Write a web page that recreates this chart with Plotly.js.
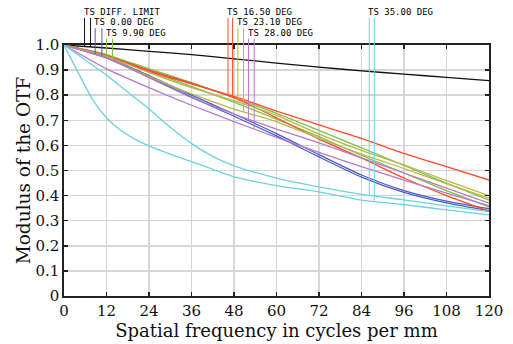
<!DOCTYPE html>
<html>
<head>
<meta charset="utf-8">
<script src="https://cdn.plot.ly/plotly-3.0.1.min.js"></script>
<style>
  html, body { margin: 0; padding: 0; background: #ffffff; }
  #chart { width: 513px; height: 344px; }
</style>
</head>
<body>
<div id="chart"></div>
<script>
// ---- data ----
const freq = [0, 12, 24, 36, 48, 60, 72, 84, 96, 108, 120];
const diffLimit = [1, 0.988, 0.975, 0.962, 0.945, 0.928, 0.912, 0.897, 0.884, 0.871, 0.858];
const t000  = [1, 0.952, 0.878, 0.800, 0.725, 0.647, 0.563, 0.482, 0.420, 0.378, 0.348];
const s000  = [1, 0.948, 0.872, 0.792, 0.716, 0.638, 0.554, 0.474, 0.413, 0.371, 0.340];
const t990  = [1, 0.962, 0.905, 0.850, 0.790, 0.728, 0.660, 0.590, 0.520, 0.450, 0.382];
const s990  = [1, 0.957, 0.895, 0.835, 0.772, 0.705, 0.635, 0.560, 0.490, 0.420, 0.355];
const t1650 = [1, 0.958, 0.895, 0.845, 0.795, 0.737, 0.682, 0.628, 0.568, 0.515, 0.462];
const s1650 = [1, 0.958, 0.900, 0.848, 0.790, 0.710, 0.625, 0.550, 0.470, 0.400, 0.338];
const t2310 = [1, 0.955, 0.890, 0.830, 0.778, 0.720, 0.645, 0.580, 0.522, 0.460, 0.400];
const s2310 = [1, 0.950, 0.875, 0.805, 0.745, 0.695, 0.628, 0.565, 0.508, 0.448, 0.390];
const t2800 = [1, 0.950, 0.870, 0.790, 0.725, 0.665, 0.610, 0.550, 0.490, 0.430, 0.370];
const s2800 = [1, 0.905, 0.830, 0.760, 0.695, 0.632, 0.572, 0.515, 0.462, 0.410, 0.360];
const freq35 = [0, 4, 8, 12, 16, 20, 24, 30, 36, 42, 48, 60, 72, 84, 96, 108, 120];
const t3500 = [1, 0.960, 0.920, 0.880, 0.835, 0.790, 0.745, 0.672, 0.607, 0.556, 0.518, 0.470, 0.435, 0.405, 0.383, 0.359, 0.336];
const s3500 = [1, 0.890, 0.785, 0.710, 0.660, 0.625, 0.598, 0.565, 0.535, 0.505, 0.475, 0.440, 0.415, 0.382, 0.364, 0.343, 0.323];

const fieldLabels = ["TS DIFF. LIMIT", "TS 0.00 DEG", "TS 9.90 DEG", "TS 16.50 DEG", "TS 23.10 DEG", "TS 28.00 DEG", "TS 35.00 DEG"];
const fieldColors = ["#111111", "#4a5cc4", "#7cc444", "#ff4a2a", "#b8b84a", "#b87ac8", "#6ad2e0"];
// x positions of the two marker lines for each field (cycles/mm)
const markerT = [5.8, 8.8, 12.0, 46.3, 49.1, 52.1, 86.2];
const markerS = [7.5, 10.7, 13.7, 47.6, 50.7, 53.7, 87.6];
const labelRow = [0, 1, 2, 0, 1, 2, 0];

const xTicks = [0, 12, 24, 36, 48, 60, 72, 84, 96, 108, 120];
const yTickVals = [0, 0.1, 0.2, 0.3, 0.4, 0.5, 0.6, 0.7, 0.8, 0.9, 1.0];
const yTickText = ["0", "0.1", "0.2", "0.3", "0.4", "0.5", "0.6", "0.7", "0.8", "0.9", "1.0"];

// ---- build ----
const fields = [
  {x: freq, t: diffLimit, s: diffLimit},
  {x: freq, t: t000, s: s000},
  {x: freq, t: t990, s: s990},
  {x: freq, t: t1650, s: s1650},
  {x: freq, t: t2310, s: s2310},
  {x: freq, t: t2800, s: s2800},
  {x: freq35, t: t3500, s: s3500}
];

function interp(xs, ys, x) {
  for (let i = 0; i < xs.length - 1; i++) {
    if (x >= xs[i] && x <= xs[i + 1]) {
      const f = (x - xs[i]) / (xs[i + 1] - xs[i]);
      return ys[i] + f * (ys[i + 1] - ys[i]);
    }
  }
  return ys[ys.length - 1];
}

const traces = [];
fields.forEach((f, i) => {
  const ln = {color: fieldColors[i], width: 1.3, shape: 'spline', smoothing: 0.6};
  traces.push({x: f.x, y: f.t, type: 'scatter', mode: 'lines', line: ln, hoverinfo: 'skip'});
  if (i > 0) traces.push({x: f.x, y: f.s, type: 'scatter', mode: 'lines', line: ln, hoverinfo: 'skip'});
});

// y range is [0,1] on a full-height domain, so paper y equals data y
const rowTextY = [1.131, 1.090, 1.049];
const rowLineTop = [1.108, 1.067, 1.025];

const shapes = [];
const annotations = [];
fields.forEach((f, i) => {
  const top = rowLineTop[labelRow[i]];
  shapes.push({type: 'line', xref: 'x', yref: 'paper', x0: markerT[i], x1: markerT[i],
    y0: interp(f.x, f.t, markerT[i]), y1: top, line: {color: fieldColors[i], width: 1}});
  shapes.push({type: 'line', xref: 'x', yref: 'paper', x0: markerS[i], x1: markerS[i],
    y0: interp(f.x, f.s, markerS[i]), y1: top, line: {color: fieldColors[i], width: 1}});
  annotations.push({text: fieldLabels[i], xref: 'x', yref: 'paper', x: markerT[i], y: rowTextY[labelRow[i]],
    xanchor: 'left', yanchor: 'middle', xshift: -3, showarrow: false,
    font: {family: 'DejaVu Sans Mono', size: 9, color: '#000000'}});
});

const serif = 'DejaVu Serif';
const layout = {
  width: 513, height: 344,
  margin: {l: 64, r: 24, t: 45, b: 48},
  paper_bgcolor: '#ffffff', plot_bgcolor: '#ffffff',
  showlegend: false,
  xaxis: {
    range: [0, 120], tickvals: xTicks, ticktext: xTicks.map(String),
    showgrid: true, gridcolor: '#d6d6d6', gridwidth: 1.5, zeroline: false,
    showline: true, linecolor: '#222222', linewidth: 1.6, mirror: 'ticks',
    ticks: 'inside', ticklen: 4, tickwidth: 1.5, tickcolor: '#222222',
    tickfont: {family: serif, size: 15, color: '#111111'},
    title: {text: 'Spatial frequency in cycles per mm', font: {family: serif, size: 18, color: '#111111'}, standoff: 5}
  },
  yaxis: {
    range: [0, 1], tickvals: yTickVals, ticktext: yTickText,
    showgrid: true, gridcolor: '#d6d6d6', gridwidth: 1.5, zeroline: false,
    showline: true, linecolor: '#222222', linewidth: 1.6, mirror: 'ticks',
    ticks: 'inside', ticklen: 4, tickwidth: 1.5, tickcolor: '#222222',
    tickfont: {family: serif, size: 15, color: '#111111'},
    title: {text: 'Modulus of the OTF', font: {family: serif, size: 18.5, color: '#111111'}, standoff: 0}
  },
  shapes: shapes,
  annotations: annotations
};

Plotly.newPlot('chart', traces, layout, {staticPlot: true, displayModeBar: false});
</script>
</body>
</html>
